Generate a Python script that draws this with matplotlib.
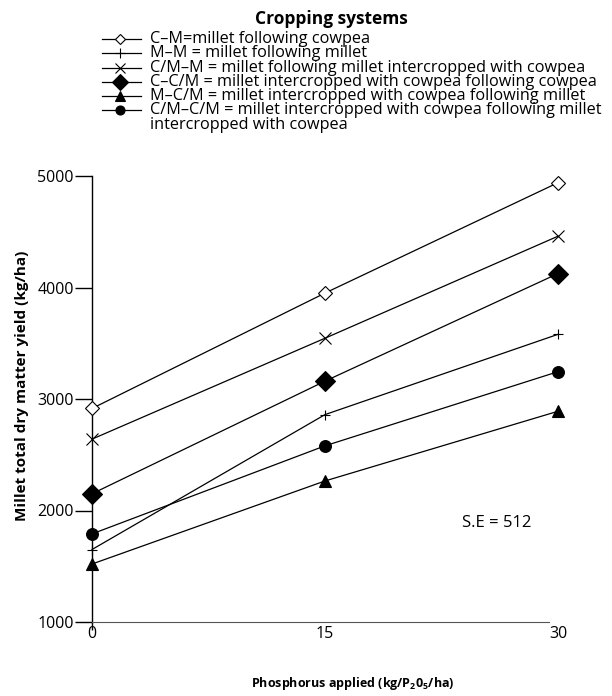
import matplotlib
matplotlib.use('Agg')
import matplotlib.pyplot as plt

plt.rcParams['font.family'] = ['Open Sans', 'DejaVu Sans']
plt.rcParams['mathtext.fontset'] = 'custom'
plt.rcParams['mathtext.rm'] = 'Open Sans:bold'
plt.rcParams['mathtext.default'] = 'rm'

# phosphorus rates (kg P2O5/ha)
p_rates = [0, 15, 30]

# millet total dry matter yield (kg/ha)
cm_yield = [2915, 3950, 4940]
mm_yield = [1650, 2860, 3580]
cmm_yield = [2640, 3545, 4460]
ccm_yield = [2150, 3160, 4125]
mcm_yield = [1520, 2265, 2890]
cmcm_yield = [1790, 2580, 3245]

labels = ['C\u2013M=millet following cowpea',
          'M\u2013M = millet following millet',
          'C/M\u2013M = millet following millet intercropped with cowpea',
          'C\u2013C/M = millet intercropped with cowpea following cowpea',
          'M\u2013C/M = millet intercropped with cowpea following millet',
          'C/M\u2013C/M = millet intercropped with cowpea following millet\nintercropped with cowpea']

y_ticks = [1000, 2000, 3000, 4000, 5000]
x_ticks = [0, 15, 30]

series = [cm_yield, mm_yield, cmm_yield, ccm_yield, mcm_yield, cmcm_yield]
markers = ['D', '+', 'x', 'D', '^', 'o']
faces = ['white', 'black', 'black', 'black', 'black', 'black']
sizes = [7, 7.5, 8.5, 10.5, 8.5, 8.5]
leg_sizes = [5.5, 7, 7.5, 8, 6.5, 6.5]

fig = plt.figure(figsize=(6.12, 6.96), dpi=100)
ax = fig.add_axes([92/612, 1-622/696, 466/612, 446/696])

for ys, m, fc, ms in zip(series, markers, faces, sizes):
  ax.plot(p_rates, ys, color='black', lw=0.9, marker=m, mfc=fc, mec='black',
          ms=ms, mew=0.8, clip_on=False, zorder=3)

ax.set_xlim(0, 30)
ax.set_ylim(1000, 5000)
ax.set_xticks(x_ticks)
ax.set_yticks(y_ticks)
for s in ['top', 'right']:
  ax.spines[s].set_visible(False)
ax.spines['left'].set_linewidth(1.0)
ax.spines['bottom'].set_color('#555555')
ax.spines['bottom'].set_bounds(0, 29.4)
ax.tick_params(axis='y', length=12, width=1.0, direction='out', labelsize=11.5, pad=1)
ax.tick_params(axis='x', length=0, labelsize=11.5, pad=3)
t0 = ax.xaxis.get_major_ticks()[0].tick1line
t0.set_markersize(6)
t0.set_markeredgewidth(1.0)

ax.set_ylabel('Millet total dry matter yield (kg/ha)', fontsize=11, fontweight='bold')
ax.yaxis.set_label_coords(-0.135, 0.53)
ax.set_xlabel(r'Phosphorus applied (kg/P$_{2}$0$_{5}$/ha)', fontsize=9, fontweight='bold')
ax.xaxis.set_label_coords(0.56, -0.118)

ax.text(0.795, 0.222, 'S.E = 512', transform=ax.transAxes, fontsize=12, va='center')

# legend drawn by hand in pixel space so rows stay as tight as the original
lax = fig.add_axes([0, 0, 1, 1])
lax.set_xlim(0, 612)
lax.set_ylim(696, 0)
lax.axis('off')
lax.text(331, 19, 'Cropping systems', ha='center', va='center', fontsize=12.5, fontweight='bold')
row = 39
for lab, m, fc, ms in zip(labels, markers, faces, leg_sizes):
  lax.plot([102, 141], [row, row], color='black', lw=0.9)
  lax.plot([120], [row], marker=m, mfc=fc, mec='black', ms=ms, mew=0.8, color='black')
  for part in lab.split('\n'):
    lax.text(150, row, part, va='center', ha='left', fontsize=11.7)
    row += 14.3

fig.savefig('out.png', dpi=100)
